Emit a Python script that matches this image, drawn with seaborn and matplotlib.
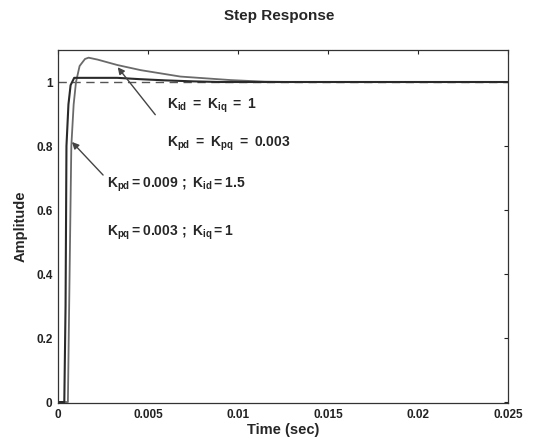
import numpy as np
import pandas as pd
import matplotlib
matplotlib.use("Agg")
import matplotlib.pyplot as plt
import seaborn as sns

# ---- data ----
t_fast = [0, 0.00035, 0.00042, 0.00047, 0.00058, 0.0007, 0.0009, 0.0033, 0.0045, 0.006, 0.0075, 0.009, 0.025]
y_fast = [0, 0, 0.3, 0.8, 0.93, 0.99, 1.013, 1.013, 1.009, 1.005, 1.002, 1.0, 1.0]

t_slow = [0, 0.00055, 0.00062, 0.00074, 0.00087, 0.001, 0.0012, 0.0015, 0.0017, 0.0022, 0.0033,
          0.0046, 0.0068, 0.0096, 0.0115, 0.013, 0.025]
y_slow = [0, 0, 0.3, 0.8, 0.93, 1.0, 1.05, 1.072, 1.076, 1.07, 1.053,
          1.037, 1.017, 1.006, 1.001, 1.0, 1.0]

t_ref = [0, 0.025]
y_ref = [1.0, 1.0]

x_ticks = [0, 0.005, 0.01, 0.015, 0.02, 0.025]
x_tick_labels = ["0", "0.005", "0.01", "0.015", "0.02", "0.025"]
y_ticks = [0, 0.2, 0.4, 0.6, 0.8, 1]
y_tick_labels = ["0", "0.2", "0.4", "0.6", "0.8", "1"]

label_1 = r"$K_{id}\ =\ K_{iq}\ =\ 1$"
label_2 = r"$K_{pd}\ =\ K_{pq}\ =\ 0.003$"
label_3 = r"$K_{pd} = 0.009\ ;\ K_{id} = 1.5$"
label_4 = r"$K_{pq} = 0.003\ ;\ K_{iq} = 1$"

# ---- style ----
sns.set_theme(style="white")
plt.rcParams["font.family"] = ["Liberation Sans", "DejaVu Sans"]
plt.rcParams["font.weight"] = "bold"
plt.rcParams["mathtext.fontset"] = "custom"
plt.rcParams["mathtext.rm"] = "Liberation Sans:bold"
plt.rcParams["mathtext.it"] = "Liberation Sans:bold"
plt.rcParams["mathtext.bf"] = "Liberation Sans:bold"

fig = plt.figure(figsize=(5.33, 4.41), dpi=100)
ax = fig.add_axes([58 / 533, 38 / 441, 450 / 533, 353 / 441])

df_fast = pd.DataFrame({"t": t_fast, "y": y_fast})
df_slow = pd.DataFrame({"t": t_slow, "y": y_slow})
df_ref = pd.DataFrame({"t": t_ref, "y": y_ref})

sns.lineplot(data=df_ref, x="t", y="y", ax=ax, color="#555555", lw=1.0,
             linestyle=(0, (6, 4)), estimator=None, sort=False)
sns.lineplot(data=df_slow, x="t", y="y", ax=ax, color="#6a6a6a", lw=1.3,
             estimator=None, sort=False)
sns.lineplot(data=df_fast, x="t", y="y", ax=ax, color="#2a2a2a", lw=1.5,
             estimator=None, sort=False)

ax.set_xlim(0, 0.025)
ax.set_ylim(-0.003, 1.1)
ax.set_xticks(x_ticks)
ax.set_xticklabels(x_tick_labels)
ax.set_yticks(y_ticks)
ax.set_yticklabels(y_tick_labels)
ax.tick_params(direction="in", length=3, width=0.8, top=True, right=True,
               labelsize=8.5, colors="#222222", pad=4)
for lab in ax.get_xticklabels() + ax.get_yticklabels():
    lab.set_fontweight("bold")
for s in ax.spines.values():
    s.set_visible(True)
    s.set_color("#333333")
    s.set_linewidth(0.9)

ax.set_xlabel("Time (sec)", fontsize=10.5, fontweight="bold", labelpad=2)
ax.set_ylabel("Amplitude", fontsize=10.5, fontweight="bold", labelpad=6)
fig.text(279 / 533, 1 - 16 / 441, "Step Response", ha="center", va="center",
         fontsize=11, fontweight="bold")

arrow = dict(arrowstyle="-|>", color="#444444", lw=1.0, mutation_scale=10)
ax.annotate("", xy=(0.00322, 1.053), xytext=(0.00550, 0.891), arrowprops=arrow)
ax.annotate("", xy=(0.00067, 0.819), xytext=(0.00261, 0.703), arrowprops=arrow)

ax.text(0.00605, 0.927, label_1, fontsize=10, va="center", ha="left")
ax.text(0.00605, 0.806, label_2, fontsize=10, va="center", ha="left")
ax.text(0.00272, 0.68, label_3, fontsize=10, va="center", ha="left")
ax.text(0.00272, 0.53, label_4, fontsize=10, va="center", ha="left")

fig.savefig("out.png", dpi=100)
